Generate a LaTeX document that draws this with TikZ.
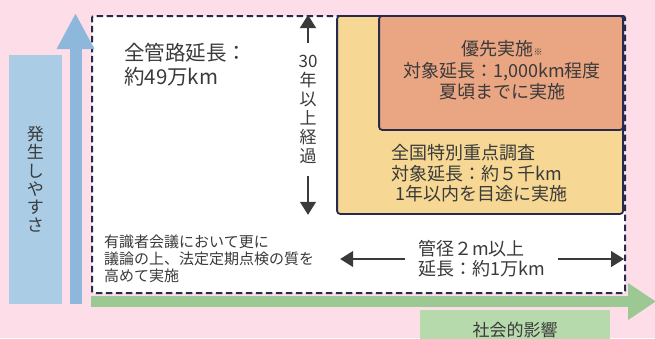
\documentclass[tikz,border=0pt]{standalone}
\usepackage{fontspec}
\setmainfont{Noto Sans CJK JP}
\usetikzlibrary{arrows.meta,positioning}
\definecolor{bgpink}{HTML}{FCDDE8}
\definecolor{axisblue}{HTML}{8DB7DB}
\definecolor{labelblue}{HTML}{AACCE4}
\definecolor{axisgreen}{HTML}{9CC893}
\definecolor{labelgreen}{HTML}{B6DAAC}
\definecolor{wheat}{HTML}{F6D894}
\definecolor{salmon}{HTML}{EAA583}
\definecolor{navy}{HTML}{262B4D}
\definecolor{ink}{HTML}{3A3A3A}
\tikzset{
  panel/.style={draw=navy, line width=1.8, rounded corners=3, inner sep=0, anchor=north east},
  txt/.style={text=ink, inner sep=0},
  arr/.style={draw=ink, line width=1.3, -{Triangle[length=13,width=16]}}
}
\begin{document}
\begin{tikzpicture}[x=1pt, y=-1pt]
    \useasboundingbox[fill=bgpink] (0,0) rectangle (655,338);

    % axes
    \node[fill=labelblue, minimum width=53, minimum height=249, inner sep=0] (likely) at (35.5,179.5) {};
    \node[txt, align=center, font=\fontsize{17}{18.2}\selectfont] at (likely) {発\\生\\し\\や\\す\\さ};
    \node[fill=labelgreen, minimum width=190, minimum height=40, inner sep=0] (impact) at (515,330) {};
    \node[txt, font=\fontsize{17}{20}\selectfont] at (impact) {社会的影響};

    % boxes
    \node[draw=navy, line width=2, dash pattern=on 6.5 off 3.5, rounded corners=2, fill=white, minimum width=533, minimum height=277, inner sep=0, anchor=north west] (all) at (91,15) {};
    \node[panel, fill=wheat, minimum width=286, minimum height=198] (tokubetsu) at (624,15) {};
    \node[panel, fill=salmon, minimum width=244, minimum height=114] (yusen) at (624,15) {};

    \draw[axisblue, line width=12, -{Triangle[length=36,width=35]}] (75.5,304) -- (75.5,13);
    \draw[axisgreen, line width=11, -{Triangle[length=28,width=35]}] (91,301.5) -- (656,301.5);

    % texts
    \node[txt, anchor=west, align=left, font=\fontsize{20.5}{24}\selectfont] (total) at (124,65) {全管路延長：\\約49万km};
    \node[txt, align=center, font=\fontsize{18}{21.5}\selectfont] (yusentxt) at (502,70.5) {優先実施{\fontsize{9}{9}\selectfont ※}\\対象延長：1,000km程度\\夏頃までに実施};
    \node[txt, anchor=west, align=left, font=\fontsize{18}{20.5}\selectfont] (tokutxt) at (391,173.5) {全国特別重点調査\\対象延長：約５千km\\\hspace{4pt}1年以内を目途に実施};
    \node[txt, anchor=west, align=left, font=\fontsize{15}{17}\selectfont] (council) at (104,259) {有識者会議において更に\\議論の上、法定定期点検の質を\\高めて実施};

    \node[txt, align=center, inner ysep=12, font=\fontsize{17}{19}\selectfont] (age) at (308,109.5) {30\\年\\以\\上\\経\\過};
    \draw[arr] (age.north) -- (age.north |- all.north);
    \draw[arr] (age.south) -- (age.south |- tokubetsu.south);

    \node[txt, anchor=west, align=left, inner xsep=13, font=\fontsize{18}{20}\selectfont] (size) at (405,259) {管径２m以上\\延長：約1万km};
    \draw[arr, shorten >=4] (size.west) -- (size.west -| tokubetsu.west);
    \draw[arr, shorten >=2] (size.east) -- (size.east -| all.east);
\end{tikzpicture}
\end{document}
